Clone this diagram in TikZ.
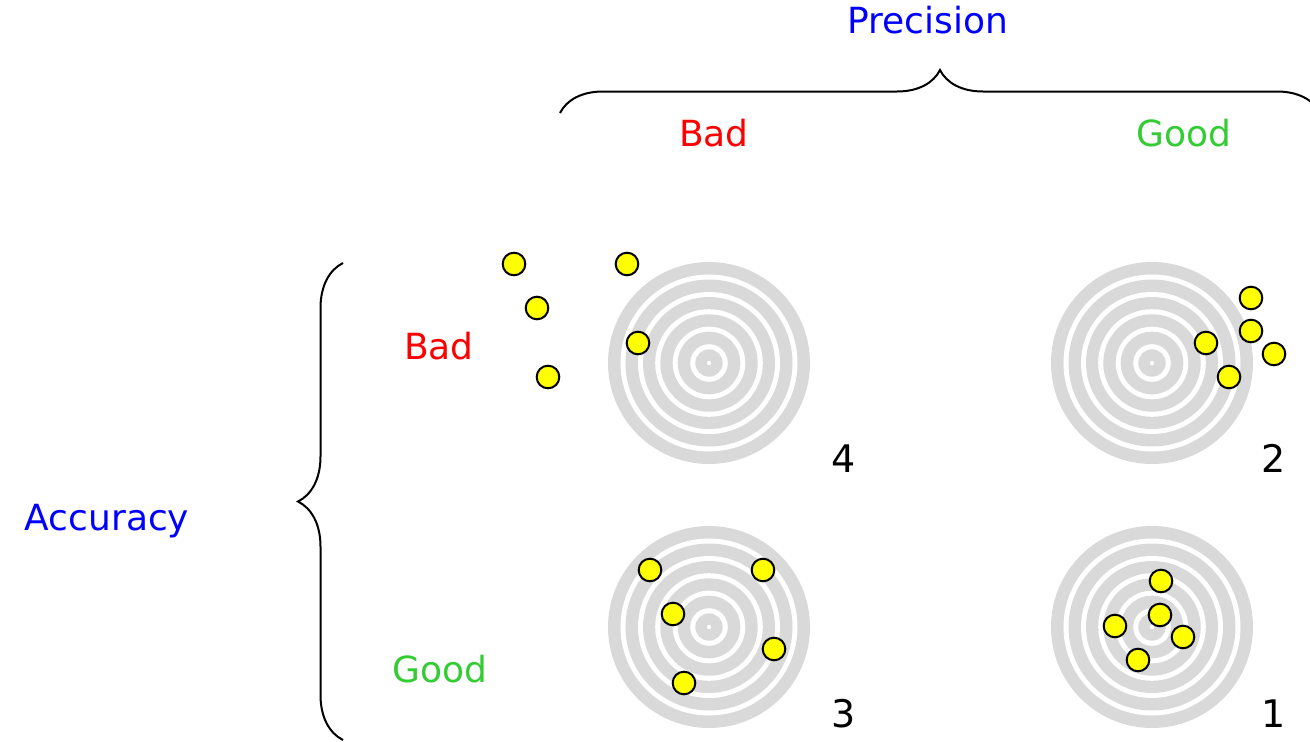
\documentclass[tikz,border=0pt]{standalone}
\usepackage{fontspec}
\setmainfont{DejaVu Sans}
\usetikzlibrary{decorations.pathreplacing}
\definecolor{ringgray}{HTML}{D9D9D9}
\definecolor{axisblue}{HTML}{0000FF}
\definecolor{badred}{HTML}{FF0000}
\definecolor{goodgreen}{HTML}{33CC33}
\definecolor{shotyellow}{HTML}{FFFF00}

\begin{document}
\begin{tikzpicture}[x=1pt,y=-1pt,
  lab/.style={font=\fontsize{36}{40}\selectfont,anchor=base},
  num/.style={font=\fontsize{38}{40}\selectfont,anchor=base},
  shot/.style={fill=shotyellow,draw=black,line width=2pt},
  bracket/.style={decorate,decoration={brace,amplitude=43pt},line width=2pt}]
  \useasboundingbox (0,0) rectangle (1310,742);
  \clip (0,0) rectangle (1310,742);
  % targets
  \foreach \cx/\cy in {709/363,1152/363,709/627,1152/627}{
    \foreach \r/\c in {101/ringgray,88.5/white,83.5/ringgray,71/white,66/ringgray,53.8/white,48.7/ringgray,36.3/white,31.3/ringgray,18.8/white,13.7/ringgray,2.2/white}
      \fill[\c] (\cx,\cy) circle (\r pt);
  }
  % shots
  \foreach \x/\y in {514/264,627/264,537/308,638/343,548/377,
                     1251/298,1251/331,1206/343,1274/354,1229/377,
                     650/570,763/570,673/614,774/649,684/683,
                     1161/581,1160/615,1115/626,1183/637,1138/660}
    \filldraw[shot] (\x,\y) circle (11.3pt);
  % labels
  \node[lab,text=axisblue] (precision) at (928,33) {Precision};
  \node[lab,text=badred] (colbad) at (714,146) {Bad};
  \node[lab,text=goodgreen] (colgood) at (1184,146) {Good};
  \node[lab,text=axisblue] (accuracy) at (107,530) {Accuracy};
  \node[lab,text=badred] (rowbad) at (439,359) {Bad};
  \node[lab,text=goodgreen] (rowgood) at (440,682) {Good};
  \node[num] (n4) at (844,472) {4};
  \node[num] (n2) at (1274,472) {2};
  \node[num] (n3) at (844,727) {3};
  \node[num] (n1) at (1274,727) {1};
  % braces
  \coordinate (pl) at (560,113);
  \coordinate (pr) at (1320,113);
  \coordinate (at) at (343,263);
  \coordinate (ab) at (343,740);
  \draw[bracket] (pl) -- (pr);
  \draw[bracket,decoration={amplitude=45pt}] (ab) -- (at);
\end{tikzpicture}
\end{document}
